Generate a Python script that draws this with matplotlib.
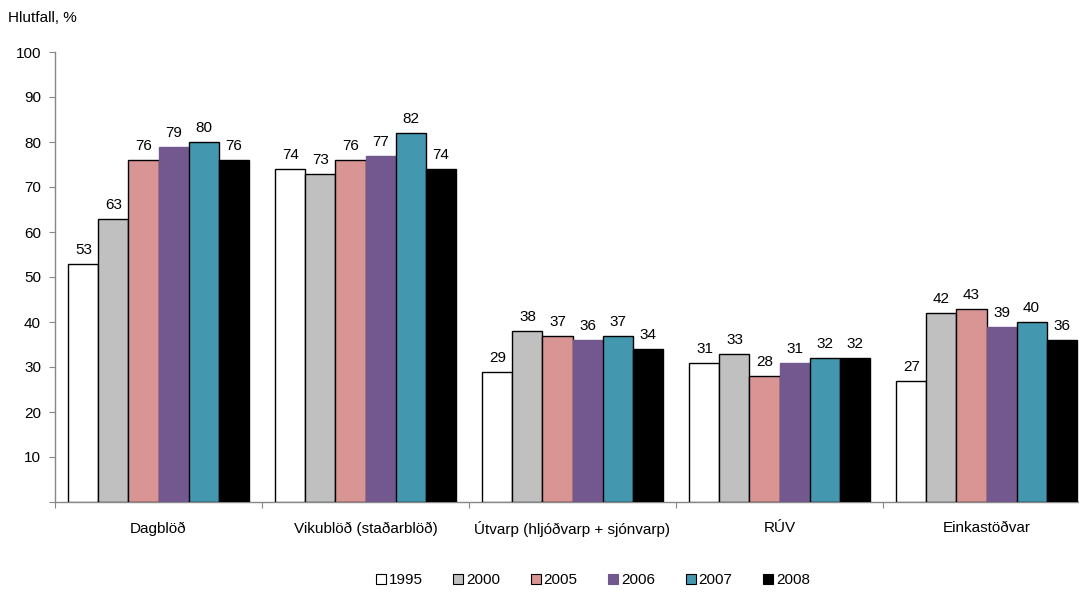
import matplotlib
matplotlib.use("Agg")
import matplotlib.pyplot as plt
from matplotlib.lines import Line2D
import numpy as np

plt.rcParams['font.family'] = ['Liberation Sans', 'DejaVu Sans']

categories = ["Dagblöð", "Vikublöð (staðarblöð)", "Útvarp (hljóðvarp + sjónvarp)", "RÚV", "Einkastöðvar"]
years = ["1995", "2000", "2005", "2006", "2007", "2008"]
v1995 = [53, 74, 29, 31, 27]
v2000 = [63, 73, 38, 33, 42]
v2005 = [76, 76, 37, 28, 43]
v2006 = [79, 77, 36, 31, 39]
v2007 = [80, 82, 37, 32, 40]
v2008 = [76, 74, 34, 32, 36]
series = [v1995, v2000, v2005, v2006, v2007, v2008]
yticks = [0, 10, 20, 30, 40, 50, 60, 70, 80, 90, 100]

face = ["#FFFFFF", "#C0C0C0", "#D99594", "#72588E", "#4397AF", "#000000"]
edge = ["#000000", "#000000", "#000000", "#72588E", "#000000", "#000000"]

FS = 11
W, H = 1079, 594
fig = plt.figure(figsize=(W / 100, H / 100), dpi=100)
ax_l, ax_r, ax_b, ax_t = 55, 1090, 502, 52
ax = fig.add_axes([ax_l / W, 1 - ax_b / H, (ax_r - ax_l) / W, (ax_b - ax_t) / H])

x = np.arange(len(categories))
bw = 0.145
for i, vals in enumerate(series):
    pos = x + (i - 2.5) * bw
    bars = ax.bar(pos, vals, width=bw, color=face[i], edgecolor=edge[i], linewidth=1.0, zorder=3)
    for b, v in zip(bars, vals):
        ax.annotate(f"{v}", (b.get_x() + b.get_width() / 2, v), xytext=(0, 5),
                    textcoords="offset points", ha="center", va="bottom", fontsize=FS)

ax.set_xlim(-0.5, len(categories) - 0.5)
ax.set_ylim(0, 100)
ax.set_yticks(yticks)
ax.set_yticklabels([("" if t == 0 else str(t)) for t in yticks], fontsize=FS)
ax.set_xticks(np.arange(len(categories) + 1) - 0.5)
ax.set_xticklabels([])
ax.set_xticks(x, minor=True)
ax.set_xticklabels(categories, minor=True, fontsize=FS)
ax.tick_params(axis="x", which="minor", length=0, pad=14)
ax.tick_params(axis="x", which="major", length=4, color="#888888", direction="out")
ax.tick_params(axis="y", length=4, color="#888888", direction="out", pad=6)
for s in ["top", "right"]:
    ax.spines[s].set_visible(False)
for s in ["left", "bottom"]:
    ax.spines[s].set_color("#888888")
    ax.spines[s].set_linewidth(1.0)

fig.text(8 / W, 1 - 18 / H, "Hlutfall, %", fontsize=FS, va="center", ha="left")

handles = [Line2D([0], [0], marker="s", linestyle="none", markersize=6.5,
                  markerfacecolor=face[i], markeredgecolor=("#000000" if i != 3 else face[i]),
                  markeredgewidth=0.8) for i in range(len(years))]
fig.legend(handles, years, loc="center", bbox_to_anchor=(592 / W, 1 - 580 / H), ncol=6,
           frameon=False, fontsize=FS, handletextpad=0.05, columnspacing=1.9, handlelength=0.9)

fig.savefig("out.png", dpi=100)
